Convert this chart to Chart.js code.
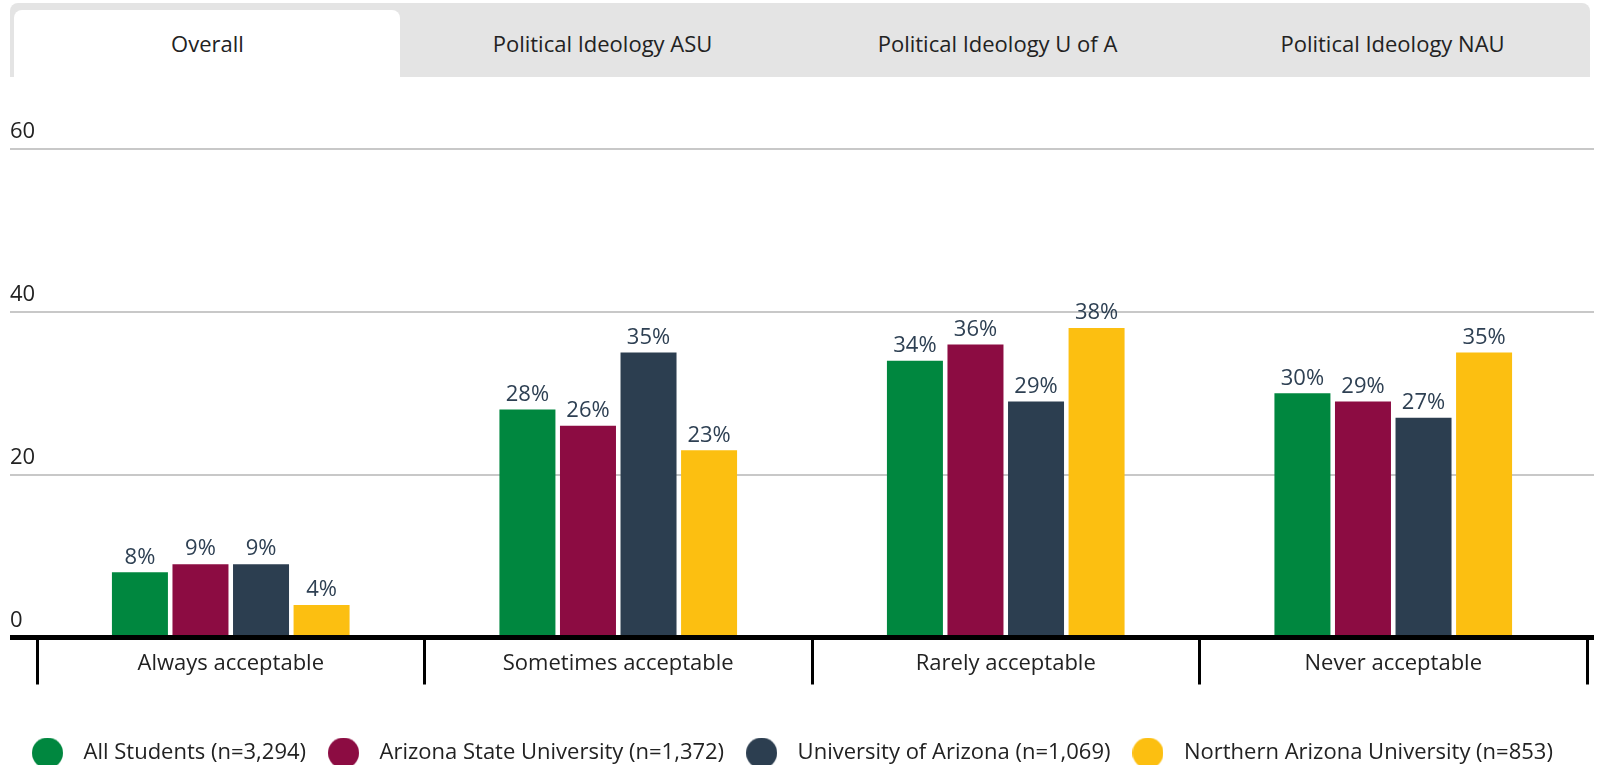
<!DOCTYPE html>
<html>
<head>
<meta charset="utf-8">
<title>Political Ideology - Overall</title>
<script src="https://cdn.jsdelivr.net/npm/chart.js@4.4.1/dist/chart.umd.min.js"></script>
<style>
  html, body { margin: 0; padding: 0; background: #fff; overflow: hidden; }
  body { width: 1597px; height: 765px; position: relative; font-family: "Open Sans", sans-serif; }
  .tabs {
    position: absolute; left: 10px; top: 3px; width: 1580px; height: 74px;
    background: #e4e4e4; border-radius: 8px 8px 0 0;
  }
  .tab-bg {
    position: absolute; left: 4px; top: 7px; width: 386px; height: 67px;
    background: #fff; border-radius: 8px 8px 0 0;
  }
  .tab {
    position: absolute; top: 0; width: 395px; height: 74px;
    line-height: 80px; text-align: center; font-size: 22px; color: #222;
  }
  .chart-box { position: absolute; left: 0; top: 77px; width: 1597px; height: 697px; }
</style>
</head>
<body>
<div class="tabs">
  <div class="tab-bg"></div>
  <div class="tab" style="left:0">Overall</div>
  <div class="tab" style="left:395px">Political Ideology ASU</div>
  <div class="tab" style="left:790px">Political Ideology U of A</div>
  <div class="tab" style="left:1185px">Political Ideology NAU</div>
</div>
<div class="chart-box"><canvas id="chart"></canvas></div>

<script>
// categories and series values (percent)
const categories = ['Always acceptable', 'Sometimes acceptable', 'Rarely acceptable', 'Never acceptable'];
const seriesNames = ['All Students (n=3,294)', 'Arizona State University (n=1,372)', 'University of Arizona (n=1,069)', 'Northern Arizona University (n=853)'];
const allStudents = [8, 28, 34, 30];
const asu = [9, 26, 36, 29];
const uofa = [9, 35, 29, 27];
const nau = [4, 23, 38, 35];
const yTicks = [0, 20, 40, 60];

const colors = ['#00873f', '#8c0c42', '#2c3e50', '#fcbf11'];

// round legend markers (bigger than the font allows for the built-in circle)
function dot(color) {
    const c = document.createElement('canvas');
    c.width = 31; c.height = 31;
    const g = c.getContext('2d');
    g.fillStyle = color;
    g.beginPath();
    g.arc(15.5, 15.5, 15.5, 0, Math.PI * 2);
    g.fill();
    return c;
}

const seriesValues = [allStudents, asu, uofa, nau];
const datasets = seriesValues.map((vals, i) => ({
    label: seriesNames[i],
    data: vals,
    backgroundColor: colors[i],
    pointStyle: dot(colors[i]),
    categoryPercentage: 0.625,
    barPercentage: 0.925
}));

// value labels above each bar
const valueLabels = {
    id: 'valueLabels',
    afterDatasetsDraw(chart) {
        const ctx = chart.ctx;
        ctx.save();
        ctx.font = '22px "Open Sans"';
        ctx.fillStyle = '#2e4053';
        ctx.textAlign = 'center';
        ctx.textBaseline = 'middle';
        chart.data.datasets.forEach((ds, i) => {
            chart.getDatasetMeta(i).data.forEach((bar, j) => {
                ctx.fillText(ds.data[j] + '%', bar.x, bar.y - 15);
            });
        });
        ctx.restore();
    }
};

const gridColor = (c) => (c.tick && c.tick.value === 0) ? '#000' : '#c8c8c8';
const gridWidth = (c) => (c.tick && c.tick.value === 0) ? 5 : 2;

Chart.defaults.font.family = '"Open Sans", sans-serif';
Chart.defaults.font.size = 22;
Chart.defaults.color = '#222';

new Chart(document.getElementById('chart'), {
    type: 'bar',
    data: { labels: categories, datasets: datasets },
    plugins: [valueLabels],
    options: {
        responsive: true,
        maintainAspectRatio: false,
        animation: false,
        layout: { padding: { top: 72, left: 10, right: 3, bottom: 0 } },
        plugins: {
            tooltip: { enabled: false },
            legend: {
                position: 'bottom',
                align: 'start',
                labels: {
                    usePointStyle: true,
                    pointStyleWidth: 50,
                    padding: 12.5,
                    color: '#222',
                    font: { size: 22 }
                }
            }
        },
        scales: {
            x: {
                z: 1,
                border: { display: true, color: '#000', width: 5 },
                grid: { offset: true, drawOnChartArea: false, tickLength: 47, color: '#000', lineWidth: 3 },
                ticks: { padding: -33.5, maxRotation: 0, autoSkip: false, color: '#222' },
                afterFit: (s) => { s.height = 92; }
            },
            y: {
                min: 0, max: 60,
                afterBuildTicks: (s) => { s.ticks = yTicks.map(v => ({ value: v })); },
                border: { display: false },
                grid: { color: gridColor, lineWidth: gridWidth, tickLength: 27 },
                ticks: { mirror: true, padding: -27, labelOffset: -17, color: '#222' },
                afterFit: (s) => { s.width = 27; }
            },
            y2: {
                position: 'right',
                min: 0, max: 60,
                afterBuildTicks: (s) => { s.ticks = yTicks.map(v => ({ value: v })); },
                border: { display: false },
                grid: { color: gridColor, lineWidth: gridWidth, tickLength: 7, drawOnChartArea: false },
                ticks: { display: false },
                afterFit: (s) => { s.width = 7; }
            }
        }
    }
});
</script>
</body>
</html>
